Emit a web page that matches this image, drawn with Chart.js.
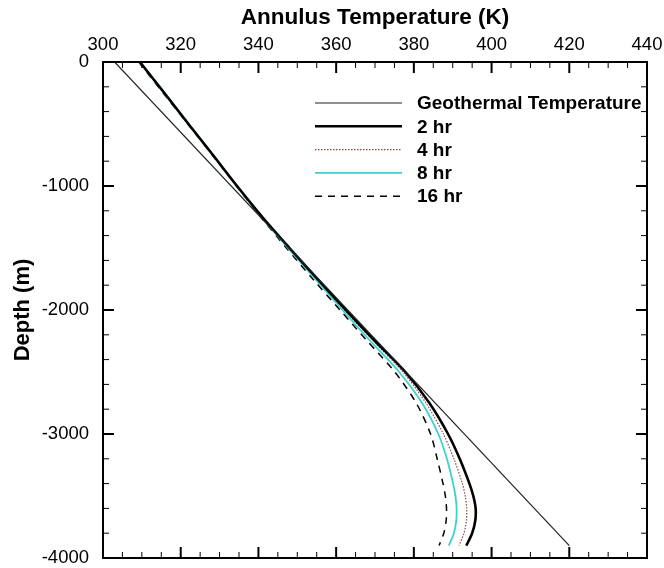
<!DOCTYPE html>
<html>
<head>
<meta charset="utf-8">
<script src="https://cdn.jsdelivr.net/npm/chart.js@4.4.1/dist/chart.umd.min.js"></script>
<style>
  html, body { margin:0; padding:0; background:#fff; }
</style>
</head>
<body>
<canvas id="chart" width="664" height="568"></canvas>
<script>
// depths (m) shared by the transient profiles
const depths   = [0, -250, -500, -750, -1000, -1250, -1500, -1750, -2000, -2250, -2500, -2750, -3000, -3200, -3400, -3500, -3600, -3700, -3800, -3900];
const temp2hr  = [309.5, 315.8, 322.0, 328.3, 334.5, 341.0, 348.0, 355.2, 362.5, 370.0, 377.8, 384.0, 388.8, 391.8, 394.3, 395.3, 395.9, 395.8, 395.0, 393.5];
const temp4hr  = [309.5, 315.8, 322.0, 328.3, 334.5, 341.0, 347.9, 355.0, 362.2, 369.6, 377.2, 383.1, 387.6, 390.3, 392.5, 393.2, 393.6, 393.5, 392.9, 391.6];
const temp8hr  = [309.4, 315.7, 321.9, 328.2, 334.4, 340.8, 347.6, 354.6, 361.6, 368.8, 376.2, 382.1, 386.3, 388.5, 390.1, 390.7, 391.0, 390.9, 390.3, 389.0];
const temp16hr = [309.2, 315.5, 321.8, 328.1, 334.3, 340.6, 347.2, 354.0, 361.0, 368.0, 375.1, 380.6, 384.3, 386.0, 387.5, 388.1, 388.4, 388.3, 387.7, 386.5];

// geothermal gradient: straight line
const geoDepths = [0, -3900];
const geoTemps  = [303, 420];

const seriesNames = ['Geothermal Temperature', '2 hr', '4 hr', '8 hr', '16 hr'];

const xMin = 300, xMax = 440, xMajor = 20, xMinor = 5;
const yMin = -4000, yMax = 0, yMajor = 1000, yMinor = 200;

const FONT = '"Liberation Sans", Arial, sans-serif';

function pts(ts, ds) { return ts.map((t, i) => ({ x: t, y: ds[i] })); }

const datasets = [
  { label: seriesNames[0], data: pts(geoTemps, geoDepths), borderColor: '#222', borderWidth: 1.2, tension: 0 },
  { label: seriesNames[1], data: pts(temp2hr, depths),  borderColor: '#000', borderWidth: 2.6 },
  { label: seriesNames[2], data: pts(temp4hr, depths),  borderColor: '#8e4a48', borderWidth: 1.2, borderDash: [1.5, 1.5] },
  { label: seriesNames[3], data: pts(temp8hr, depths),  borderColor: '#3cd2cc', borderWidth: 1.8 },
  { label: seriesNames[4], data: pts(temp16hr, depths), borderColor: '#000', borderWidth: 1.5, borderDash: [7, 6] }
].map(d => ({ tension: 0.3, pointRadius: 0, showLine: true, fill: false, ...d }));

// frame + inward ticks on all four sides
const frameTicks = {
  id: 'frameTicks',
  afterDatasetsDraw(chart) {
    const { ctx, chartArea: a, scales: { x, y } } = chart;
    ctx.save();
    ctx.strokeStyle = '#000';
    const seg = (x1, y1, x2, y2) => { ctx.beginPath(); ctx.moveTo(x1, y1); ctx.lineTo(x2, y2); ctx.stroke(); };
    for (let t = xMin + xMinor; t < xMax; t += xMinor) {
      const px = x.getPixelForValue(t);
      const major = t % xMajor === 0;
      const len = major ? 11 : 6;
      ctx.lineWidth = major ? 2 : 1;
      seg(px, a.top, px, a.top + len);
      seg(px, a.bottom, px, a.bottom - len);
    }
    for (let v = yMin + yMinor; v < yMax; v += yMinor) {
      const py = y.getPixelForValue(v);
      const major = v % yMajor === 0;
      const len = major ? 11 : 6;
      ctx.lineWidth = major ? 2 : 1;
      seg(a.left, py, a.left + len, py);
      seg(a.right, py, a.right - len, py);
    }
    ctx.lineWidth = 2;
    ctx.strokeRect(a.left, a.top, a.right - a.left, a.bottom - a.top);
    ctx.restore();
  }
};

// legend inside the plot, top right
const innerLegend = {
  id: 'innerLegend',
  afterDraw(chart) {
    const { ctx } = chart;
    ctx.save();
    ctx.font = 'bold 19px ' + FONT;
    ctx.textBaseline = 'middle';
    ctx.fillStyle = '#000';
    chart.data.datasets.forEach((ds, i) => {
      const yy = 103 + i * 23.3;
      ctx.strokeStyle = ds.borderColor;
      ctx.lineWidth = ds.borderWidth;
      ctx.setLineDash(ds.borderDash || []);
      ctx.beginPath(); ctx.moveTo(315, yy); ctx.lineTo(402, yy); ctx.stroke();
      ctx.setLineDash([]);
      ctx.fillText(ds.label, 417, yy + 1);
    });
    ctx.restore();
  }
};

new Chart(document.getElementById('chart'), {
  type: 'scatter',
  data: { datasets },
  options: {
    responsive: false,
    animation: false,
    devicePixelRatio: 1,
    layout: { padding: { left: 0, right: 17, top: 0, bottom: 10 } },
    plugins: { legend: { display: false }, tooltip: { enabled: false } },
    scales: {
      x: {
        type: 'linear', position: 'top', min: xMin, max: xMax,
        ticks: { stepSize: xMajor, color: '#000', font: { family: FONT, size: 18.5 }, padding: 6, maxRotation: 0, callback: v => String(v) },
        grid: { display: false, drawTicks: false },
        border: { display: false },
        title: { display: true, text: 'Annulus Temperature (K)', color: '#000', font: { family: FONT, size: 22.5, weight: 'bold' }, padding: { top: 4, bottom: 0 } },
        afterFit: s => { s.height = 62; s.paddingLeft = 0; s.paddingRight = 0; }
      },
      y: {
        type: 'linear', min: yMin, max: yMax,
        ticks: { stepSize: yMajor, color: '#000', font: { family: FONT, size: 18.5 }, padding: 14, callback: v => String(v) },
        grid: { display: false, drawTicks: false },
        border: { display: false },
        title: { display: true, text: 'Depth (m)', color: '#000', font: { family: FONT, size: 22, weight: 'bold' }, padding: { top: 10, bottom: 0 } },
        afterFit: s => { s.width = 103; s.paddingTop = 0; s.paddingBottom = 0; }
      }
    }
  },
  plugins: [frameTicks, innerLegend]
});
</script>
</body>
</html>
